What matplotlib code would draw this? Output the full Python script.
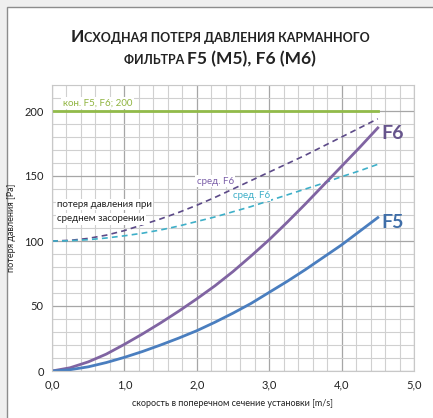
import numpy as np
import matplotlib.pyplot as plt
from matplotlib.patches import Rectangle
from matplotlib.ticker import MultipleLocator, FuncFormatter

plt.rcParams['font.family'] = ['Lato', 'DejaVu Sans']

# скорость [m/s]
v = [0.0, 0.25, 0.5, 0.75, 1.0, 1.25, 1.5, 1.75, 2.0, 2.25,
     2.5, 2.75, 3.0, 3.25, 3.5, 3.75, 4.0, 4.25, 4.5]
f5 = [0, 1, 3.2, 6.5, 10.5, 15, 20, 25.3, 31, 37.5,
      44.5, 52, 60.5, 69, 78, 87.5, 97, 107.5, 118]
f6 = [0, 2.5, 7, 13, 20.5, 28.5, 37, 46, 55.5, 65.5,
      76.5, 88.5, 101, 114.5, 128.5, 143, 157.5, 172, 187]
f6_mid = [100, 100.5, 102, 104.5, 108, 112.5, 117, 122, 127.5, 133.5,
          140, 146.5, 153, 159.5, 166, 173, 180, 187, 194]
f5_mid = [100, 100.2, 101, 102.3, 104, 106, 108.5, 111.5, 115, 118.5,
          122.5, 126.5, 131, 135.5, 140, 144.5, 149.5, 154, 159]
final_dp = 200

fig = plt.figure(figsize=(4.33, 4.18), dpi=100)
fig.patch.set_facecolor('#efefef')
fig.add_artist(Rectangle((7/433, -0.01), 1.0, 1 - 7/418 + 0.01, transform=fig.transFigure,
                         facecolor='white', edgecolor='#8c8c8c', lw=1.0, zorder=-10))

ax = fig.add_axes([52/433, 1 - 371/418, (414 - 52)/433, (371 - 85)/418])
ax.set_facecolor('white')

# grid
ax.set_xlim(0, 5)
ax.set_ylim(0, 220)
ax.xaxis.set_major_locator(MultipleLocator(1))
ax.xaxis.set_minor_locator(MultipleLocator(0.2))
ax.yaxis.set_major_locator(MultipleLocator(50))
ax.yaxis.set_minor_locator(MultipleLocator(10))
ax.grid(which='major', color='#a6a6a6', lw=0.9)
ax.grid(which='minor', color='#d0d0d0', lw=0.8)
ax.set_axisbelow(True)
for s in ax.spines.values():
    s.set_color('#c8c8c8')
    s.set_linewidth(0.8)
ax.tick_params(which='both', length=0, labelsize=8, pad=6, colors='#222222')
ax.xaxis.set_major_formatter(FuncFormatter(lambda x, p: f'{x:.1f}'.replace('.', ',')))

# lines
ax.plot([v[0], v[-1]], [final_dp, final_dp], color='#92bb4a', lw=2.0)
ax.plot(v, f6_mid, color='#5c4a88', lw=1.2, ls=(0, (3.5, 2.5)))
ax.plot(v, f5_mid, color='#3eafc8', lw=1.2, ls=(0, (3.5, 2.5)))
ax.plot(v, f6, color='#8064a2', lw=2.0, solid_joinstyle='round')
ax.plot(v, f5, color='#4a7ebf', lw=2.0, solid_joinstyle='round')

# labels
box = dict(facecolor='white', edgecolor='none', pad=1.0)
ax.text(0.15, 206, 'кон. F5, F6; 200', color='#8fb43f', fontsize=7, va='center', bbox=box)
ax.text(2.0, 146, 'сред. F6', color='#7a5ea8', fontsize=7, va='center', bbox=box)
ax.text(2.5, 135, 'сред. F6', color='#3eafc8', fontsize=7, va='center', bbox=box)
ax.text(0.07, 128, 'потеря давления при', color='#222222', fontsize=7, va='center', bbox=box)
ax.text(0.07, 117, 'среднем засорении', color='#222222', fontsize=7, va='center', bbox=box)
ax.text(4.55, 183, 'F6', color='#66548c', fontsize=14, fontweight='bold', va='center')
ax.text(4.55, 114, 'F5', color='#3f6ea8', fontsize=14, fontweight='bold', va='center')

ax.set_xlabel('скорость в поперечном сечение установки [m/s]', fontsize=6.5, labelpad=6, color='#222222')
ax.set_ylabel('потеря давления [Pa]', fontsize=6.5, labelpad=6, color='#222222')

# title in small caps, drawn piece by piece
def title_line(pieces, y):
    fig.canvas.draw()
    r = fig.canvas.get_renderer()
    objs = [fig.text(0, y, t, fontsize=s, fontweight='bold', color='#222222', va='baseline')
            for t, s in pieces]
    widths = [o.get_window_extent(r).width for o in objs]
    x = (433 + 7) / 2 - sum(widths) / 2
    for o, w in zip(objs, widths):
        o.set_x(x / 433)
        x += w

title_line([('И', 12.5), ('СХОДНАЯ ПОТЕРЯ ДАВЛЕНИЯ КАРМАННОГО', 9)], 1 - 42/418)
title_line([('ФИЛЬТРА ', 9), ('F5 (M5), F6 (M6)', 12.5)], 1 - 64/418)

fig.savefig('out.png', dpi=100, facecolor=fig.get_facecolor())
